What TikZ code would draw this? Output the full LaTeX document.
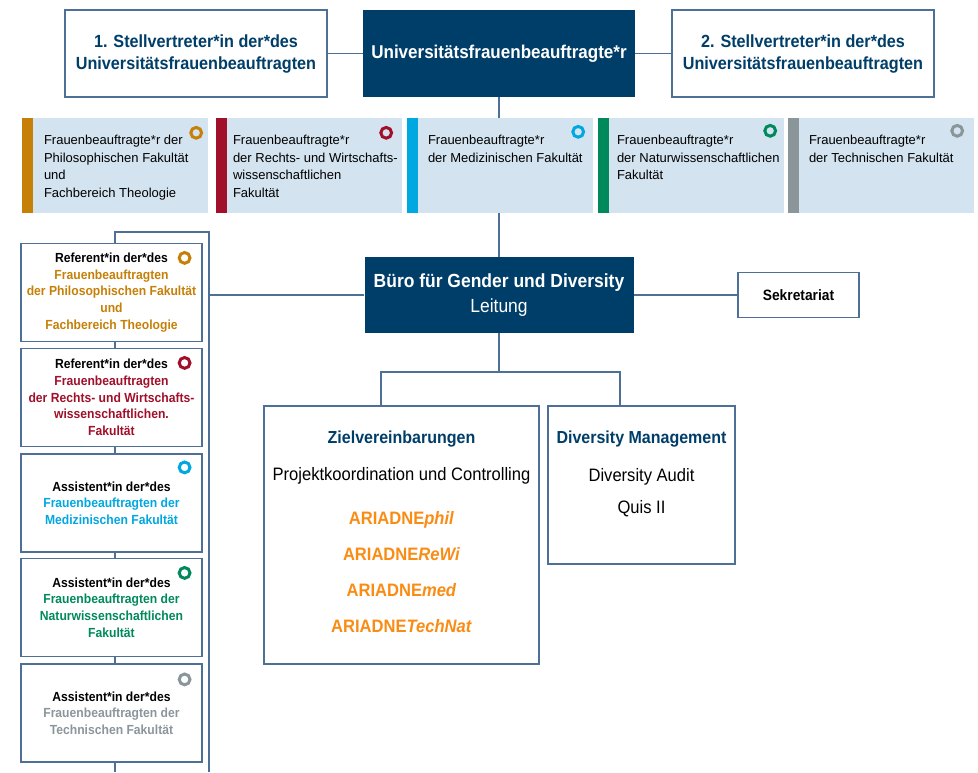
\documentclass[tikz,border=0pt]{standalone}
\usepackage{fontspec}
\setmainfont{Liberation Sans}
\newfontfamily\narrowfont{Liberation Sans}[FakeStretch=0.92]
\usetikzlibrary{positioning}
\usetikzlibrary{backgrounds}

\definecolor{dunkelblau}{RGB}{0,62,106}
\definecolor{linie}{RGB}{78,112,150}
\definecolor{hellblau}{RGB}{211,227,239}
\definecolor{cphil}{RGB}{198,128,8}
\definecolor{crewi}{RGB}{160,16,42}
\definecolor{cmed}{RGB}{0,168,225}
\definecolor{cnat}{RGB}{0,138,92}
\definecolor{ctech}{RGB}{139,150,155}
\definecolor{ariadne}{RGB}{250,140,20}

\tikzset{
  rahmen/.style={draw=linie, line width=1.2pt, fill=white},
  topbox/.style={rahmen, minimum width=262pt, minimum height=87pt, align=center, text=dunkelblau, font=\narrowfont\bfseries\fontsize{17.6}{22}\selectfont},
  chefbox/.style={fill=dunkelblau, text=white, align=center, font=\narrowfont\fontsize{19}{25}\selectfont},
  fakbox/.style={fill=hellblau, minimum width=175pt, minimum height=95pt, inner sep=0pt},
  faktext/.style={anchor=north west, align=left, inner sep=0pt, font=\fontsize{13}{17.7}\selectfont},
  lbox/.style={rahmen, minimum width=181pt, minimum height=98pt, align=center, font=\narrowfont\bfseries\fontsize{13.2}{16.7}\selectfont},
  titel/.style={text=dunkelblau, font=\narrowfont\bfseries\fontsize{17.4}{20}\selectfont},
  eintrag/.style={font=\narrowfont\fontsize{18}{20}\selectfont},
  projekt/.style={text=ariadne, font=\narrowfont\bfseries\fontsize{18}{20}\selectfont},
  ring/.style={line width=3pt},
  verbindung/.style={draw=linie, line width=1.2pt},
}

\begin{document}
\begin{tikzpicture}[x=1pt, y=-1pt]
\useasboundingbox (0,0) rectangle (978,772);

% Leitungsebene
\node (stv1) at (196,53.5) [topbox]{1. Stellvertreter*in der*des\\Universitätsfrauenbeauftragten};
\node (ufb) at (499,53.5) [chefbox, minimum width=272pt, minimum height=87pt, font=\narrowfont\bfseries\fontsize{18.5}{22}\selectfont]{Universitätsfrauenbeauftragte*r};
\node (stv2) at (803,53.5) [topbox]{2. Stellvertreter*in der*des\\Universitätsfrauenbeauftragten};

% Fakultaeten
\node (fak1) at (120.5,165.5) [fakbox]{};
\node (fak2) at (314.5,165.5) [fakbox]{};
\node (fak3) at (505.5,165.5) [fakbox]{};
\node (fak4) at (696.5,165.5) [fakbox]{};
\node (fak5) at (886.5,165.5) [fakbox]{};
\fill[cphil] ([xshift=-11]fak1.north west) rectangle (fak1.south west);
\fill[crewi] ([xshift=-11]fak2.north west) rectangle (fak2.south west);
\fill[cmed] ([xshift=-11]fak3.north west) rectangle (fak3.south west);
\fill[cnat] ([xshift=-11]fak4.north west) rectangle (fak4.south west);
\fill[ctech] ([xshift=-11]fak5.north west) rectangle (fak5.south west);
\node (fak1t) at ([shift={(11,17)}]fak1.north west) [faktext]{Frauenbeauftragte*r der\\Philosophischen Fakultät\\und\\Fachbereich Theologie};
\node (fak2t) at ([shift={(6,17)}]fak2.north west) [faktext]{Frauenbeauftragte*r\\der Rechts- und Wirtschafts-\\wissenschaftlichen\\Fakultät};
\node (fak3t) at ([shift={(10,17)}]fak3.north west) [faktext]{Frauenbeauftragte*r\\der Medizinischen Fakultät};
\node (fak4t) at ([shift={(8,17)}]fak4.north west) [faktext]{Frauenbeauftragte*r\\der Naturwissenschaftlichen\\Fakultät};
\node (fak5t) at ([shift={(10,17)}]fak5.north west) [faktext]{Frauenbeauftragte*r\\der Technischen Fakultät};
\draw[ring, cphil] ([shift={(-12,15)}]fak1.north east) circle (5.4);
\draw[ring, crewi] ([shift={(-16,15)}]fak2.north east) circle (5.4);
\draw[ring, cmed] ([shift={(-15,14)}]fak3.north east) circle (5.4);
\draw[ring, cnat] ([shift={(-14,13)}]fak4.north east) circle (5.4);
\draw[ring, ctech] ([shift={(-17,13)}]fak5.north east) circle (5.4);

% Buero
\node (buero) at (499,295) [chefbox, minimum width=269pt, minimum height=76pt]{\bfseries Büro für Gender und Diversity\\Leitung};
\node (sekr) at (798.5,295) [rahmen, minimum width=121pt, minimum height=45pt, font=\narrowfont\bfseries\fontsize{15}{16}\selectfont]{Sekretariat};

% Referent*innen und Assistent*innen
\node (refA) at (111.5,292.5) [lbox]{Referent*in der*des\\\color{cphil}Frauenbeauftragten\\\color{cphil}der Philosophischen Fakultät\\\color{cphil}und\\\color{cphil}Fachbereich Theologie};
\node (refB) at (111.5,397.5) [lbox]{Referent*in der*des\\\color{crewi}Frauenbeauftragten\\\color{crewi}der Rechts- und Wirtschafts-\\\color{crewi}wissenschaftlichen.\\\color{crewi}Fakultät};
\node (assC) at (111.5,503) [lbox]{Assistent*in der*des\\\color{cmed}Frauenbeauftragten der\\\color{cmed}Medizinischen Fakultät};
\node (assD) at (111.5,607.5) [lbox]{Assistent*in der*des\\\color{cnat}Frauenbeauftragten der\\\color{cnat}Naturwissenschaftlichen\\\color{cnat}Fakultät};
\node (assE) at (111.5,713) [lbox]{Assistent*in der*des\\\color{ctech}Frauenbeauftragten der\\\color{ctech}Technischen Fakultät};
\draw[ring, cphil] ([shift={(-18,15)}]refA.north east) circle (5.4);
\draw[ring, crewi] ([shift={(-18,15)}]refB.north east) circle (5.4);
\draw[ring, cmed] ([shift={(-18,14)}]assC.north east) circle (5.4);
\draw[ring, cnat] ([shift={(-18,15)}]assD.north east) circle (5.4);
\draw[ring, ctech] ([shift={(-18,16)}]assE.north east) circle (5.4);

% Arbeitsbereiche
\node (ziel) at (401.5,535) [rahmen, minimum width=275pt, minimum height=258pt]{};
\node (zielT) at ([shift={(0,34)}]ziel.north) [titel]{Zielvereinbarungen};
\node (zielK) at ([shift={(0,70)}]ziel.north) [eintrag]{Projektkoordination und Controlling};
\node (arPhil) at ([shift={(0,114)}]ziel.north) [projekt]{ARIADNE\textit{phil}};
\node (arRewi) at ([shift={(0,149)}]ziel.north) [projekt]{ARIADNE\textit{ReWi}};
\node (arMed) at ([shift={(0,185)}]ziel.north) [projekt]{ARIADNE\textit{med}};
\node (arTech) at ([shift={(0,221)}]ziel.north) [projekt]{ARIADNE\textit{TechNat}};

\node (divm) at (641.5,485) [rahmen, minimum width=187pt, minimum height=158pt]{};
\node (divmT) at ([shift={(0,34)}]divm.north) [titel]{Diversity Management};
\node (divmA) at ([shift={(0,71)}]divm.north) [eintrag]{Diversity Audit};
\node (divmQ) at ([shift={(0,103)}]divm.north) [eintrag]{Quis II};

\coordinate (lbus) at (209,232);
\coordinate (lend) at (209,772);
\coordinate (split) at (499,372);

\begin{pgfonlayer}{background}
\draw[verbindung] (stv1) -- (ufb);
\draw[verbindung] (ufb) -- (stv2);
\draw[verbindung] (ufb) -- (buero);
\draw[verbindung] (buero) -- (sekr);
\draw[verbindung] (buero.west) -- (buero.west -| lbus);
\draw[verbindung] ([xshift=3.5]refA.north) |- (lbus) -- (lend);
\draw[verbindung] ([xshift=3.5]refA.south) -- ([xshift=3.5]refB.north);
\draw[verbindung] ([xshift=3.5]refB.south) -- ([xshift=3.5]assC.north);
\draw[verbindung] ([xshift=3.5]assC.south) -- ([xshift=3.5]assD.north);
\draw[verbindung] ([xshift=3.5]assD.south) -- ([xshift=3.5]assE.north);
\draw[verbindung] ([xshift=3.5]assE.south) -- ([xshift=3.5]assE.south |- lend);
\draw[verbindung] (buero) -- (split);
\draw[verbindung] ([xshift=-20.5]ziel.north) |- (split) -| ([xshift=-21.5]divm.north);
\end{pgfonlayer}

\end{tikzpicture}
\end{document}
